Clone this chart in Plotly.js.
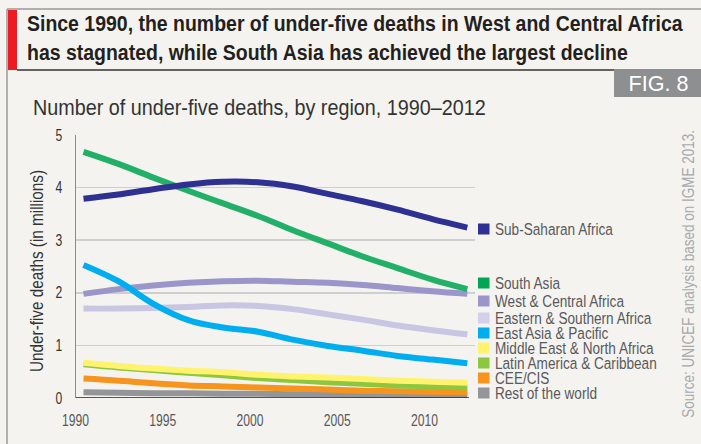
<!DOCTYPE html>
<html>
<head>
<meta charset="utf-8">
<script src="https://cdn.plot.ly/plotly-3.0.1.min.js"></script>
<style>
html,body{margin:0;padding:0;background:#f4f3ef;}
#chart{width:701px;height:444px;}
</style>
</head>
<body>
<div id="chart"></div>
<script>
// ---- Data, under-five deaths in millions ----
const years = [1990, 1992, 1994, 1996, 1998, 2000, 2002, 2004, 2006, 2008, 2010, 2012];
const regions = ["Sub-Saharan Africa", "South Asia", "West & Central Africa", "Eastern & Southern Africa",
  "East Asia & Pacific", "Middle East & North Africa", "Latin America & Caribbean", "CEE/CIS", "Rest of the world"];
const subSaharanAfrica = [3.79, 3.87, 3.97, 4.06, 4.11, 4.10, 4.02, 3.88, 3.74, 3.58, 3.40, 3.24];
const southAsia        = [4.68, 4.45, 4.19, 3.94, 3.70, 3.46, 3.19, 2.94, 2.69, 2.47, 2.25, 2.07];
const westCentral      = [1.98, 2.07, 2.14, 2.19, 2.22, 2.23, 2.21, 2.19, 2.15, 2.09, 2.03, 1.98];
const easternSouthern  = [1.70, 1.70, 1.71, 1.73, 1.76, 1.75, 1.69, 1.59, 1.49, 1.38, 1.29, 1.21];
const eastAsiaPacific  = [2.53, 2.22, 1.79, 1.48, 1.34, 1.26, 1.11, 0.99, 0.90, 0.80, 0.73, 0.66];
const middleEastNA     = [0.67, 0.61, 0.56, 0.52, 0.49, 0.44, 0.41, 0.39, 0.36, 0.33, 0.31, 0.29];
const latinAmerica     = [0.64, 0.58, 0.53, 0.48, 0.43, 0.38, 0.34, 0.30, 0.27, 0.24, 0.22, 0.20];
const ceeCis           = [0.37, 0.33, 0.28, 0.24, 0.22, 0.20, 0.18, 0.16, 0.14, 0.13, 0.12, 0.11];
const restOfWorld      = [0.11, 0.10, 0.09, 0.09, 0.08, 0.08, 0.07, 0.07, 0.06, 0.06, 0.06, 0.06];
const xTicks = [1990, 1995, 2000, 2005, 2010];
const yTicks = [0, 1, 2, 3, 4, 5];

const seriesValues = [subSaharanAfrica, southAsia, westCentral, easternSouthern, eastAsiaPacific,
  middleEastNA, latinAmerica, ceeCis, restOfWorld];

// ---- Styles ----
const lineColors = ["#2e3192", "#22b069", "#9b96c9", "#c9c6e3", "#00aeef", "#fff36d", "#8dc63f", "#f7941d", "#939598"];
const swatchColors = ["#2e3192", "#00a651", "#9b95c9", "#d3d1e9", "#00aeef", "#fff36d", "#8dc63f", "#f7941d", "#939598"];
const legendPixelY = [229, 283, 301, 318, 333, 348, 363, 378, 393];
const drawOrder = [8, 7, 6, 5, 3, 2, 4, 1, 0];

const FONT = "'Liberation Sans', Arial, sans-serif";
const W = 701, H = 444;
const M = {l: 76, r: 226, t: 135, b: 46};
const PW = W - M.l - M.r, PH = H - M.t - M.b;
const px = x => (x - M.l) / PW;
const py = y => (H - M.b - y) / PH;

const traces = drawOrder.map(i => ({
  type: 'scatter', mode: 'lines', name: regions[i],
  x: years, y: seriesValues[i],
  line: {color: lineColors[i], width: 6, shape: 'spline', smoothing: 1},
  hoverinfo: 'skip', showlegend: false
}));

const shapes = [
  {type: 'line', xref: 'paper', yref: 'paper', x0: px(7), x1: px(701), y0: py(9), y1: py(9), line: {color: '#9a9a9a', width: 1.5}},
  {type: 'line', xref: 'paper', yref: 'paper', x0: px(7), x1: px(7), y0: py(9), y1: py(444), line: {color: '#9a9a9a', width: 1.5}},
  {type: 'rect', xref: 'paper', yref: 'paper', x0: px(8), x1: px(17), y0: py(10), y1: py(70), fillcolor: '#ed1c24', line: {width: 0}},
  {type: 'line', xref: 'paper', yref: 'paper', x0: px(17), x1: px(614), y0: py(70), y1: py(70), line: {color: '#333333', width: 1.5}},
  {type: 'rect', xref: 'paper', yref: 'paper', x0: px(614), x1: px(701), y0: py(69), y1: py(97), fillcolor: '#8e8f91', line: {width: 0}},
  {type: 'line', xref: 'paper', yref: 'y', x0: px(76), x1: px(469), y0: 0, y1: 0, line: {color: '#231f20', width: 1.5}, layer: 'above'}
];
regions.forEach((r, i) => {
  shapes.push({type: 'rect', xref: 'paper', yref: 'paper', x0: px(478), x1: px(489.5),
    y0: py(legendPixelY[i] - 5.5), y1: py(legendPixelY[i] + 5.5), fillcolor: swatchColors[i], line: {width: 0}});
});

const annotations = [
  {xref: 'paper', yref: 'paper', x: px(25), y: py(38), xanchor: 'left', yanchor: 'middle', align: 'left', showarrow: false,
   text: 'Since 1990, the number of under-five deaths in West and Central Africa<br>has stagnated, while South Asia has achieved the largest decline',
   font: {family: FONT, size: 22, color: '#231f20', weight: 'bold'}},
  {xref: 'paper', yref: 'paper', x: px(658), y: py(83), xanchor: 'center', yanchor: 'middle', showarrow: false,
   text: 'FIG. 8', font: {family: FONT, size: 22, color: '#ffffff'}},
  {xref: 'paper', yref: 'paper', x: px(31), y: py(108), xanchor: 'left', yanchor: 'middle', align: 'left', showarrow: false,
   text: 'Number of under-five deaths, by region, 1990–2012', font: {family: FONT, size: 22, color: '#333333'}},
  {xref: 'paper', yref: 'paper', x: px(37), y: py(271), xanchor: 'center', yanchor: 'middle', showarrow: false, textangle: -90,
   text: 'Under-five deaths (in millions)', font: {family: FONT, size: 18, color: '#333333'}},
  {xref: 'paper', yref: 'paper', x: px(688), y: py(274), xanchor: 'center', yanchor: 'middle', showarrow: false, textangle: -90,
   text: 'Source: UNICEF analysis based on IGME 2013.', font: {family: FONT, size: 16.5, color: '#a7a9ac'}}
];
// target width (px) of the first line of each text, to emulate the condensed typeface of the reference
const targets = {0: 656, 1: 60, 2: 453, 3: 202, 4: 288};
regions.forEach((r, i) => {
  annotations.push({xref: 'paper', yref: 'paper', x: px(493), y: py(legendPixelY[i]), xanchor: 'left', yanchor: 'middle',
    align: 'left', showarrow: false, text: r, font: {family: FONT, size: 16.5, color: '#58595b'}});
});

const layout = {
  width: W, height: H,
  margin: M,
  paper_bgcolor: '#f4f3ef', plot_bgcolor: '#f4f3ef',
  font: {family: FONT},
  showlegend: false,
  xaxis: {
    range: [1989.57, 2012.44], tickvals: xTicks, ticktext: xTicks.map(String),
    showgrid: false, zeroline: false, showline: false, ticks: '',
    ticklabelshift: -8, ticklabelstandoff: 11,
    tickfont: {family: FONT, size: 16, color: '#58595b'}, fixedrange: true
  },
  yaxis: {
    range: [0, 5], tickvals: yTicks, ticktext: yTicks.map(String),
    showgrid: true, gridcolor: '#cfcfcf', gridwidth: 1.5, zeroline: false,
    showline: true, linecolor: '#8a8a8a', linewidth: 1.5, ticks: '', ticklabelstandoff: 9,
    tickfont: {family: FONT, size: 16, color: '#333333'}, fixedrange: true
  },
  shapes: shapes,
  annotations: annotations
};

// horizontal condensing of a text element about its anchor point
function firstLineWidth(el) {
  const ln = el.querySelector('tspan.line');
  return ln ? ln.getComputedTextLength() : el.getComputedTextLength();
}
function condense(el, f) {
  const bb = el.getBBox();
  const a = el.getAttribute('text-anchor') || 'start';
  const ox = a === 'middle' ? bb.x + bb.width / 2 : (a === 'end' ? bb.x + bb.width : bb.x);
  const prev = el.getAttribute('transform') || '';
  el.setAttribute('transform', `${prev} translate(${ox},0) scale(${f},1) translate(${-ox},0)`.trim());
}

Plotly.newPlot('chart', traces, layout, {displayModeBar: false, staticPlot: true}).then(gd => {
  const ann = k => gd.querySelector(`g.annotation[data-index="${k}"] text.annotation-text`);
  Object.keys(targets).forEach(k => {
    const t = ann(k);
    if (t) condense(t, targets[k] / firstLineWidth(t));
  });
  const first = ann(5);
  const f = first ? 118 / first.getComputedTextLength() : 0.82;
  for (let i = 5; i < 5 + regions.length; i++) {
    const t = ann(i);
    if (t) condense(t, f);
  }
  const xt = gd.querySelector('.xtick text');
  const fx = xt ? 27 / xt.getComputedTextLength() : 0.8;
  gd.querySelectorAll('.xtick text, .ytick text').forEach(t => condense(t, fx));
});
</script>
</body>
</html>
